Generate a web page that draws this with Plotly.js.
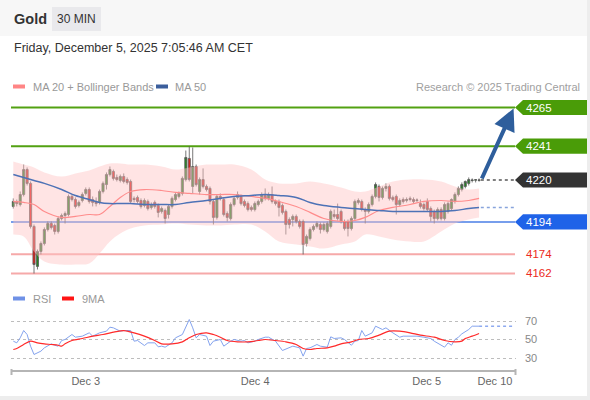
<!DOCTYPE html>
<html><head><meta charset="utf-8">
<script src="https://cdn.plot.ly/plotly-3.0.1.min.js"></script>
<style>html,body{margin:0;padding:0;background:#fff;} #chart{width:590px;height:400px;}</style>
</head><body><div id="chart"></div>
<script>
// ---- Candles (30 min, Gold) ----
const open = [4203.6,4206.7,4204.8,4211.0,4226.5,4217.9,4191.2,4166.4,4175.7,4180.6,
4189.3,4193.0,4191.8,4188.1,4196.1,4198.0,4198.6,4209.8,4207.9,4204.2,
4207.3,4211.7,4214.1,4207.9,4206.7,4206.1,4212.9,4217.2,4223.4,4225.3,
4221.6,4219.7,4222.2,4220.3,4219.1,4208.6,4209.2,4207.3,4204.2,4206.7,
4203.0,4206.1,4204.2,4200.5,4201.1,4198.6,4203.6,4207.9,4209.8,4211.7,
4220.3,4233.4,4216.0,4228.4,4212.9,4220.3,4216.0,4214.8,4206.7,4196.8,
4209.8,4207.9,4199.2,4196.1,4204.8,4209.2,4209.8,4206.7,4205.4,4203.0,
4201.7,4204.8,4206.7,4210.4,4208.6,4211.0,4206.7,4206.7,4204.2,4200.5,
4195.5,4195.5,4197.4,4194.3,4194.3,4180.6,4183.7,4189.3,4191.2,4192.4,
4189.3,4188.1,4191.2,4198.6,4198.6,4200.5,4194.3,4194.3,4189.9,4196.1,
4206.1,4206.7,4201.7,4200.5,4204.8,4209.8,4216.0,4209.2,4214.8,4216.0,
4209.2,4209.8,4204.8,4207.9,4207.3,4208.6,4207.9,4207.3,4205.4,4204.8,
4206.7,4202.3,4200.5,4196.1,4201.7,4196.1,4200.5,4202.3,4206.7,4211.0,
4214.1,4216.0,4217.9,4219.7,4219.9,4219.8];
const high = [4208.6,4207.9,4212.9,4229.6,4227.8,4219.1,4192.4,4176.9,4181.9,4190.6,
4194.3,4194.3,4193.0,4197.4,4199.2,4200.5,4211.0,4211.0,4209.2,4207.3,
4212.3,4215.4,4215.4,4209.8,4209.2,4214.1,4219.1,4224.7,4228.4,4226.5,
4223.4,4223.4,4224.1,4221.6,4220.3,4209.8,4210.4,4208.6,4208.6,4207.9,
4206.1,4207.3,4205.4,4203.6,4202.3,4204.8,4209.8,4212.3,4212.9,4222.2,
4238.3,4240.8,4240.2,4229.6,4221.6,4227.2,4217.2,4216.0,4207.9,4211.0,
4211.7,4209.2,4200.5,4206.1,4209.8,4212.9,4211.0,4207.9,4206.7,4204.2,
4206.7,4207.9,4212.3,4214.8,4212.3,4216.0,4207.9,4207.9,4205.4,4201.7,
4196.8,4198.6,4198.6,4195.5,4195.5,4186.2,4190.6,4192.4,4194.3,4193.7,
4193.7,4194.3,4201.7,4201.7,4205.4,4201.7,4195.5,4195.5,4197.4,4207.9,
4208.6,4207.9,4203.0,4206.1,4211.0,4218.5,4217.2,4216.0,4217.9,4217.2,
4210.4,4211.0,4208.6,4209.2,4209.2,4209.8,4209.2,4208.6,4207.9,4206.1,
4208.6,4203.6,4201.7,4203.0,4203.0,4206.1,4206.7,4208.6,4212.3,4216.0,
4218.5,4219.7,4221.6,4221.0,4220.3,4221.0];
const low = [4202.3,4203.6,4203.6,4209.8,4216.6,4189.9,4162.0,4164.5,4173.8,4179.4,
4188.1,4189.3,4186.2,4186.8,4194.9,4193.0,4197.4,4206.7,4202.3,4203.0,
4206.1,4210.4,4205.4,4203.6,4203.6,4204.8,4211.7,4214.1,4222.2,4219.7,
4219.1,4218.5,4217.9,4217.2,4205.4,4206.1,4205.4,4202.3,4203.0,4201.1,
4201.7,4202.3,4196.8,4199.2,4193.0,4196.1,4202.3,4206.7,4208.6,4210.4,
4219.1,4219.1,4211.7,4216.0,4211.0,4214.8,4212.9,4204.8,4192.4,4195.5,
4207.3,4197.4,4194.3,4194.9,4203.6,4207.9,4204.2,4203.0,4200.5,4200.5,
4200.5,4203.6,4205.4,4207.3,4207.3,4205.4,4204.2,4197.4,4198.6,4186.2,
4189.9,4191.2,4193.0,4189.9,4173.8,4178.8,4182.5,4188.1,4189.9,4186.8,
4188.1,4186.8,4189.9,4196.1,4194.9,4193.0,4188.7,4185.0,4188.7,4194.9,
4204.8,4200.5,4193.0,4199.2,4203.6,4208.6,4206.7,4207.9,4212.9,4207.3,
4206.7,4198.6,4203.6,4205.4,4206.1,4206.7,4205.4,4206.1,4202.3,4201.1,
4200.5,4194.3,4193.0,4194.9,4194.9,4194.9,4199.2,4201.1,4205.4,4209.8,
4212.9,4214.8,4216.6,4218.5,4218.5,4219.0];
const close = [4206.7,4205.4,4211.0,4226.5,4217.9,4191.2,4167.6,4175.7,4180.6,4189.3,
4193.0,4190.6,4188.1,4196.1,4198.0,4199.2,4209.8,4207.9,4203.6,4206.1,
4211.0,4214.1,4206.7,4206.1,4205.4,4212.9,4217.9,4223.4,4226.5,4221.0,
4220.3,4222.2,4219.1,4218.5,4206.7,4207.9,4206.7,4203.6,4207.3,4202.3,
4204.8,4203.6,4199.9,4202.3,4196.1,4203.6,4208.6,4211.0,4211.7,4221.0,
4234.0,4220.3,4228.4,4217.2,4220.3,4216.0,4214.1,4206.7,4196.8,4209.8,
4208.6,4198.6,4196.8,4204.8,4208.6,4211.0,4205.4,4204.2,4201.7,4201.7,
4205.4,4206.7,4211.0,4208.6,4211.0,4206.7,4205.4,4203.0,4199.9,4192.4,
4192.4,4197.4,4194.3,4191.2,4180.0,4185.0,4189.3,4191.2,4193.0,4189.3,
4192.4,4193.0,4200.5,4197.4,4196.1,4194.3,4189.9,4189.9,4196.1,4206.7,
4207.3,4201.7,4200.5,4204.8,4209.8,4217.2,4209.2,4214.8,4216.0,4208.6,
4207.9,4204.8,4207.3,4206.7,4207.9,4207.9,4206.7,4207.6,4203.6,4202.3,
4201.7,4197.4,4196.1,4201.7,4196.1,4204.8,4205.4,4207.9,4211.0,4214.8,
4217.2,4219.1,4220.3,4220.0,4220.2,4220.0];

// ---- MA 20 + Bollinger Bands, MA 50 (read at sample candles) ----
const bandX   = [0,3,6,9,14,18,22,25,28,31,34,38,43,47,51,56,60,64,69,73,77,82,86,90,95,99,102,106,110,115,119,124,128,132,135];
const bbUpper = [4231.5,4229.6,4227.8,4224.7,4222.2,4224.1,4225.9,4228.4,4230.3,4230.3,4229.6,4229.6,4228.4,4226.5,4227.8,4229.6,4229.6,4229.6,4226.5,4220.3,4217.9,4217.9,4219.1,4217.9,4215.4,4212.9,4212.9,4216.0,4219.1,4220.3,4220.3,4219.1,4216.0,4214.1,4214.8];
const bbLower = [4186.2,4185.0,4175.7,4169.5,4167.6,4167.6,4168.2,4174.4,4181.9,4186.8,4189.9,4191.8,4192.4,4193.0,4192.4,4191.8,4191.8,4192.4,4192.4,4188.1,4181.9,4180.0,4178.8,4177.5,4180.0,4181.9,4186.2,4185.0,4183.1,4181.9,4181.9,4188.1,4193.0,4195.5,4196.8];
const ma20    = [4206.7,4206.1,4204.8,4200.5,4196.8,4197.4,4198.6,4198.6,4203.6,4209.2,4212.9,4214.1,4213.5,4212.3,4211.7,4211.0,4211.0,4211.0,4209.8,4208.6,4206.7,4203.6,4199.9,4196.1,4194.3,4194.9,4196.8,4201.1,4203.0,4204.8,4206.7,4207.3,4206.7,4207.3,4208.6];
const ma50    = [4223.4,4221.6,4219.7,4217.9,4214.1,4210.4,4207.9,4206.1,4205.4,4205.4,4205.4,4204.8,4204.8,4204.8,4206.1,4207.3,4208.6,4209.8,4210.4,4211.0,4210.4,4209.2,4206.1,4204.2,4203.0,4202.3,4201.7,4201.1,4200.5,4200.5,4200.5,4200.5,4201.1,4202.3,4203.0];

// ---- RSI and its 9 MA ----
const rsiX = [0,1,2,3,4,5,6,8,9,11,12,13,14,15,17,18,20,22,23,25,27,28,29,31,32,34,35,36,38,39,41,42,43,44,46,47,49,50,51,52,53,54,56,57,58,60,61,63,64,66,67,68,70,71,73,74,76,78,80,81,83,84,85,86,88,89,91,92,93,95,96,98,99,100,101,102,104,105,107,108,110,112,113,115,117,119,121,122,124,125,126,127,128,129,130,132,133,135];
const rsiVal = [48.2,46.4,51.8,59.7,55.4,42.8,33.8,37.4,41.0,45.3,43.8,42.8,48.9,50.0,55.4,52.5,53.6,57.2,53.6,57.2,59.0,63.3,62.6,59.0,59.7,59.7,48.2,48.9,43.5,46.4,46.4,42.1,42.8,41.7,46.4,51.8,55.4,64.4,71.6,62.6,51.8,55.4,53.6,43.5,48.2,50.0,42.8,48.2,50.0,48.2,48.9,46.4,48.2,50.0,52.5,52.5,48.2,38.1,41.7,42.8,41.0,32.0,40.3,41.0,44.6,42.8,41.7,52.9,51.1,51.8,50.0,43.8,48.2,48.9,59.7,53.6,57.2,64.4,60.8,62.6,57.2,52.5,53.6,53.6,53.6,52.5,51.1,48.2,44.3,41.7,46.4,43.8,50.0,52.5,56.1,60.8,64.4,64.4];
const ma9X = [0,1,3,5,7,9,11,13,14,15,17,20,23,26,29,32,33,35,38,41,43,46,49,51,53,56,58,60,62,65,68,71,73,76,79,82,84,86,88,91,93,95,98,100,103,106,109,112,115,118,122,125,128,130,131,133,135];
const ma9Val = [39.2,40.3,44.6,48.2,46.4,45.3,44.6,43.8,42.8,45.3,48.9,51.1,53.6,55.4,57.9,59.7,59.0,57.2,53.6,48.9,45.3,45.3,47.5,51.8,55.4,57.2,55.4,52.5,48.9,47.5,47.5,48.9,50.0,48.9,47.5,44.6,40.3,39.2,40.3,41.0,42.8,45.3,47.5,50.0,51.1,54.7,59.0,59.0,57.2,54.7,52.5,48.9,47.5,48.2,51.1,53.6,56.5];

// ---- Levels and axis labels ----
const levels = [4265, 4241, 4220, 4194, 4174, 4162];
const levelLabels = ['4265', '4241', '4220', '4194', '4174', '4162'];
const dayTickPos = [21.0, 70.1, 119.8, 139.6];
const dayTickText = ['Dec 3', 'Dec 4', 'Dec 5', 'Dec 10'];
const rsiTicks = [30, 50, 70];
const rsiTickText = ['30', '50', '70'];

// ---- layout helpers ----
const W = 590, H = 400;
const px = x => x / W;
const py = y => 1 - y / H;
const idx = close.map((_, i) => i);
const last = idx.length - 1;
const xRange = [-0.67, 145.7];
const xEnd = 145.4;
const FONT = 'Liberation Sans, Arial, sans-serif';

const levelStyle = [
  {kind: 'box', line: '#52a112', box: '#4a9c08', w: 2},
  {kind: 'box', line: '#52a112', box: '#4a9c08', w: 2},
  {kind: 'current', box: '#333333'},
  {kind: 'box', line: '#4a7ee6', box: '#1f63e8', w: 1.5},
  {kind: 'text', line: '#f6a9a9', text: '#ec2a22', w: 2},
  {kind: 'text', line: '#f6a9a9', text: '#ec2a22', w: 2}
];

const shapes = [];
const annotations = [];

// header background and frame
shapes.push({type: 'rect', xref: 'paper', yref: 'paper', x0: 0, x1: 1, y0: py(36), y1: 1, fillcolor: '#f7f7f7', line: {width: 0}, layer: 'below'});
shapes.push({type: 'rect', xref: 'paper', yref: 'paper', x0: px(587), x1: 1, y0: 0, y1: 1, fillcolor: '#ededed', line: {width: 0}, layer: 'below'});
shapes.push({type: 'rect', xref: 'paper', yref: 'paper', x0: 0, x1: 1, y0: 0, y1: py(396), fillcolor: '#ededed', line: {width: 0}, layer: 'below'});
shapes.push({type: 'rect', xref: 'paper', yref: 'paper', x0: px(52), x1: px(101), y0: py(31), y1: py(7), fillcolor: '#e9e9ec', line: {width: 0}});

annotations.push({xref: 'paper', yref: 'paper', x: px(12), y: py(19), xanchor: 'left', yanchor: 'middle', showarrow: false, text: '<b>Gold</b>', font: {size: 14.5, color: '#333', family: FONT}});
annotations.push({xref: 'paper', yref: 'paper', x: px(76.5), y: py(19), xanchor: 'center', yanchor: 'middle', showarrow: false, text: '30 MIN', font: {size: 12, color: '#333', family: FONT}});
annotations.push({xref: 'paper', yref: 'paper', x: px(12), y: py(48), xanchor: 'left', yanchor: 'middle', showarrow: false, text: 'Friday, December 5, 2025 7:05:46 AM CET', font: {size: 12.5, color: '#333', family: FONT}});

// price legend
shapes.push({type: 'rect', xref: 'paper', yref: 'paper', x0: px(13), x1: px(25), y0: py(88.5), y1: py(84.5), fillcolor: '#ff8585', line: {width: 0}});
shapes.push({type: 'rect', xref: 'paper', yref: 'paper', x0: px(156), x1: px(168), y0: py(88.5), y1: py(84.5), fillcolor: '#3b5e9c', line: {width: 0}});
annotations.push({xref: 'paper', yref: 'paper', x: px(31), y: py(86.5), xanchor: 'left', yanchor: 'middle', showarrow: false, text: 'MA 20 + Bollinger Bands', font: {size: 11, color: '#999', family: FONT}});
annotations.push({xref: 'paper', yref: 'paper', x: px(173), y: py(86.5), xanchor: 'left', yanchor: 'middle', showarrow: false, text: 'MA 50', font: {size: 11, color: '#999', family: FONT}});
annotations.push({xref: 'paper', yref: 'paper', x: px(582), y: py(86.5), xanchor: 'right', yanchor: 'middle', showarrow: false, text: 'Research © 2025 Trading Central', font: {size: 11, color: '#a0a0a0', family: FONT}});

// RSI legend
shapes.push({type: 'rect', xref: 'paper', yref: 'paper', x0: px(13), x1: px(25), y0: py(300.5), y1: py(296.5), fillcolor: '#6f91e6', line: {width: 0}});
shapes.push({type: 'rect', xref: 'paper', yref: 'paper', x0: px(62), x1: px(74), y0: py(300.5), y1: py(296.5), fillcolor: '#ff1414', line: {width: 0}});
annotations.push({xref: 'paper', yref: 'paper', x: px(31), y: py(298.5), xanchor: 'left', yanchor: 'middle', showarrow: false, text: 'RSI', font: {size: 11, color: '#999', family: FONT}});
annotations.push({xref: 'paper', yref: 'paper', x: px(80), y: py(298.5), xanchor: 'left', yanchor: 'middle', showarrow: false, text: '9MA', font: {size: 11, color: '#999', family: FONT}});

// levels
const halfBox = 4.7;
levels.forEach((v, k) => {
  const st = levelStyle[k];
  if (st.kind === 'current') {
    shapes.push({type: 'line', xref: 'x', yref: 'y', x0: last + 0.5, x1: xEnd, y0: v, y1: v, line: {color: '#555', width: 1.5, dash: 'dot'}});
  } else {
    shapes.push({type: 'line', xref: 'paper', yref: 'y', x0: px(11), x1: px(515), y0: v, y1: v, line: {color: st.line, width: st.w}, layer: 'below'});
  }
  if (st.kind === 'text') {
    annotations.push({xref: 'paper', yref: 'y', x: px(524), y: v, xanchor: 'left', yanchor: 'middle', showarrow: false, text: levelLabels[k], font: {size: 11.5, color: st.text, family: FONT}});
  } else {
    const path = `M ${px(515)},${v} L ${px(523)},${v + halfBox} L ${px(587)},${v + halfBox} L ${px(587)},${v - halfBox} L ${px(523)},${v - halfBox} Z`;
    shapes.push({type: 'path', xref: 'paper', yref: 'y', path: path, fillcolor: st.box, line: {width: 0}});
    annotations.push({xref: 'paper', yref: 'y', x: px(524), y: v, xanchor: 'left', yanchor: 'middle', showarrow: false, text: levelLabels[k], font: {size: 11.5, color: '#ffffff', family: FONT}});
  }
});

// MA50 projection (dotted)
shapes.push({type: 'line', xref: 'x', yref: 'y', x0: last + 0.5, x1: xEnd, y0: ma50[ma50.length - 1], y1: ma50[ma50.length - 1], line: {color: '#88a4dc', width: 1.5, dash: 'dot'}});
// RSI projection (dotted)
shapes.push({type: 'line', xref: 'x', yref: 'y2', x0: rsiX[rsiX.length - 1], x1: xEnd, y0: rsiVal[rsiVal.length - 1], y1: rsiVal[rsiVal.length - 1], line: {color: '#8eaaf0', width: 1.5, dash: 'dot'}});

// x axis end ticks
shapes.push({type: 'line', xref: 'paper', yref: 'paper', x0: px(11.5), x1: px(11.5), y0: py(369), y1: py(375), line: {color: '#b5b5b5', width: 2}});
shapes.push({type: 'line', xref: 'paper', yref: 'paper', x0: px(515.5), x1: px(515.5), y0: py(369), y1: py(375), line: {color: '#b5b5b5', width: 2}});

// forecast arrow
annotations.push({xref: 'x', yref: 'y', axref: 'x', ayref: 'y', x: xEnd - 0.4, y: levels[0] - 0.6, ax: last + 0.6, ay: levels[2], showarrow: true, arrowhead: 2, arrowsize: 1.1, arrowwidth: 4, arrowcolor: '#2e5e9c', text: ''});

const traces = [
  {type: 'scatter', mode: 'lines', x: bandX, y: bbUpper, line: {width: 0, shape: 'spline', smoothing: 1}, xaxis: 'x', yaxis: 'y', hoverinfo: 'skip'},
  {type: 'scatter', mode: 'lines', x: bandX, y: bbLower, fill: 'tonexty', fillcolor: 'rgba(255,195,195,0.45)', line: {width: 0, shape: 'spline', smoothing: 1}, xaxis: 'x', yaxis: 'y', hoverinfo: 'skip'},
  {type: 'candlestick', x: idx, open: open, high: high, low: low, close: close, xaxis: 'x', yaxis: 'y', whiskerwidth: 0,
   increasing: {line: {color: '#555555', width: 0.8}, fillcolor: '#248524'},
   decreasing: {line: {color: '#555555', width: 0.8}, fillcolor: '#e61d19'}},
  {type: 'scatter', mode: 'lines', x: bandX, y: ma20, line: {color: '#ff8c8c', width: 1.2, shape: 'spline', smoothing: 1}, xaxis: 'x', yaxis: 'y'},
  {type: 'scatter', mode: 'lines', x: bandX, y: ma50, line: {color: '#4d72b6', width: 1.5, shape: 'spline', smoothing: 1}, xaxis: 'x', yaxis: 'y'},
  {type: 'scatter', mode: 'lines', x: rsiX, y: rsiVal, line: {color: '#84a3ee', width: 1}, xaxis: 'x', yaxis: 'y2'},
  {type: 'scatter', mode: 'lines', x: ma9X, y: ma9Val, line: {color: '#ff2a2a', width: 1.2, shape: 'spline', smoothing: 0.8}, xaxis: 'x', yaxis: 'y2'}
];

const layout = {
  width: W, height: H,
  margin: {l: 0, r: 0, t: 0, b: 0},
  paper_bgcolor: '#ffffff', plot_bgcolor: 'rgba(0,0,0,0)',
  showlegend: false,
  boxgap: 0.12,
  font: {family: FONT},
  xaxis: {domain: [px(11), px(516)], range: xRange, anchor: 'y2', showgrid: false, zeroline: false,
          showline: true, linecolor: '#b5b5b5', linewidth: 2, ticks: '', tickvals: dayTickPos, ticktext: dayTickText,
          tickfont: {size: 11, color: '#666', family: FONT}, rangeslider: {visible: false}, fixedrange: true},
  yaxis: {domain: [py(286.5), py(96.5)], range: [4153.93, 4271.83], visible: false, anchor: 'x', fixedrange: true},
  yaxis2: {domain: [py(370), py(305)], range: [17.03, 87.3], anchor: 'x', side: 'right', tickvals: rsiTicks, ticktext: rsiTickText,
           showgrid: true, gridcolor: '#bdbdbd', griddash: 'dot', gridwidth: 1, zeroline: false, showline: false, ticks: '',
           tickfont: {size: 11, color: '#888', family: FONT}, ticklabelstandoff: 8, fixedrange: true},
  shapes: shapes,
  annotations: annotations,
  hovermode: false
};

Plotly.newPlot('chart', traces, layout, {staticPlot: true, displayModeBar: false});
</script>
</body></html>
